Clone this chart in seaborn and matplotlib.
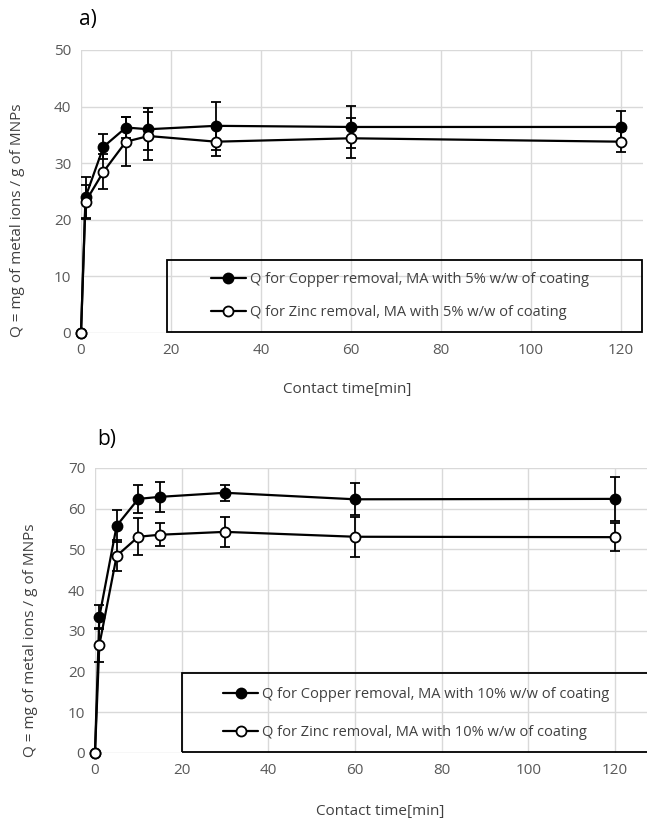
import numpy as np
import seaborn as sns
import matplotlib.pyplot as plt
from matplotlib.patches import Rectangle

# Datos
tiempo = [0, 1, 5, 10, 15, 30, 60, 120]

cobre_5 = [0, 24.0, 32.9, 36.3, 36.0, 36.6, 36.4, 36.4]
cobre_5_err = [0, 3.6, 2.2, 1.9, 3.7, 4.2, 3.7, 2.8]
zinc_5 = [0, 23.2, 28.5, 33.8, 34.8, 33.8, 34.4, 33.8]
zinc_5_err = [0, 3.0, 3.1, 4.3, 4.2, 2.5, 3.5, 1.8]

cobre_10 = [0, 33.4, 55.8, 62.4, 62.9, 63.9, 62.3, 62.4]
cobre_10_err = [0, 3.0, 3.9, 3.4, 3.7, 2.0, 3.9, 5.4]
zinc_10 = [0, 26.5, 48.4, 53.1, 53.6, 54.3, 53.1, 53.0]
zinc_10_err = [0, 4.2, 3.8, 4.5, 2.8, 3.7, 4.9, 3.4]

sns.set_theme(style='whitegrid')
plt.rcParams['font.family'] = ['Open Sans', 'DejaVu Sans']
plt.rcParams['grid.color'] = '#d9d9d9'
plt.rcParams['grid.linewidth'] = 1.0

gris = '#595959'
texto = '#404040'

fig = plt.figure(figsize=(6.47, 8.25), dpi=100)
ax_a = fig.add_axes([0.1252, 0.5964, 0.8686, 0.3430])
ax_b = fig.add_axes([0.1468, 0.0873, 0.8532, 0.3455])


def dibujar(ax, cu, cu_err, zn, zn_err, pct, ymax, xmax, ley_x, ley_y, caja, espaciado):
    df_cu = {'t': tiempo, 'q': cu}
    df_zn = {'t': tiempo, 'q': zn}
    ax.errorbar(tiempo, cu, yerr=cu_err, fmt='none', ecolor='black', elinewidth=1.3,
                capsize=3.5, capthick=1.3, zorder=2, clip_on=False)
    ax.errorbar(tiempo, zn, yerr=zn_err, fmt='none', ecolor='black', elinewidth=1.3,
                capsize=3.5, capthick=1.3, zorder=2, clip_on=False)
    sns.lineplot(data=df_cu, x='t', y='q', ax=ax, color='black', marker='o', markersize=7.2,
                 markerfacecolor='black', markeredgecolor='black', markeredgewidth=1.3,
                 linewidth=1.6, zorder=4, clip_on=False,
                 label=f'Q for Copper removal, MA with {pct}% w/w of coating')
    sns.lineplot(data=df_zn, x='t', y='q', ax=ax, color='black', marker='o', markersize=7.2,
                 markerfacecolor='white', markeredgecolor='black', markeredgewidth=1.3,
                 linewidth=1.6, zorder=4, clip_on=False,
                 label=f'Q for Zinc removal, MA with {pct}% w/w of coating')

    ax.set_xlim(0, xmax)
    ax.set_ylim(0, ymax)
    ax.set_xticks(np.arange(0, 121, 20))
    ax.set_yticks(np.arange(0, ymax + 1, 10))
    ax.tick_params(axis='both', length=0, pad=7, labelsize=11, labelcolor=gris)
    for s in ax.spines.values():
        s.set_visible(False)
    ax.grid(True, color='#d9d9d9', linewidth=1.0)

    ax.set_xlabel('Contact time[min]', fontsize=11, color=texto)
    ax.set_ylabel('Q = mg of metal ions / g of MNPs', fontsize=11, color=texto)

    ley = ax.legend(loc='center left', bbox_to_anchor=(ley_x, ley_y), frameon=False,
                    fontsize=10.5, handlelength=2.4, handletextpad=0.3,
                    borderpad=0, borderaxespad=0, labelspacing=espaciado)
    for t in ley.get_texts():
        t.set_color(texto)
    ax.add_patch(Rectangle((caja[0], caja[1]), caja[2], caja[3], transform=ax.transAxes,
                           fill=False, edgecolor='black', linewidth=1.3, clip_on=False, zorder=5))


dibujar(ax_a, cobre_5, cobre_5_err, zinc_5, zinc_5_err, 5, 50, 125,
        0.231, 0.131, (0.153, 0.002, 0.845, 0.256), 1.2)
dibujar(ax_b, cobre_10, cobre_10_err, zinc_10, zinc_10_err, 10, 70, 127.4,
        0.232, 0.139, (0.158, 0.002, 0.9, 0.279), 1.55)

ax_a.xaxis.set_label_coords(0.473, -0.172)
ax_a.yaxis.set_label_coords(-0.0996, 0.40)
ax_b.xaxis.set_label_coords(0.516, -0.178)
ax_b.yaxis.set_label_coords(-0.103, 0.396)

fig.text(88 / 647, 1 - 20 / 825, 'a)', fontsize=15, ha='center', va='center', color='black')
fig.text(107 / 647, 1 - 440 / 825, 'b)', fontsize=15, ha='center', va='center', color='black')

fig.savefig('out.png', dpi=100)
